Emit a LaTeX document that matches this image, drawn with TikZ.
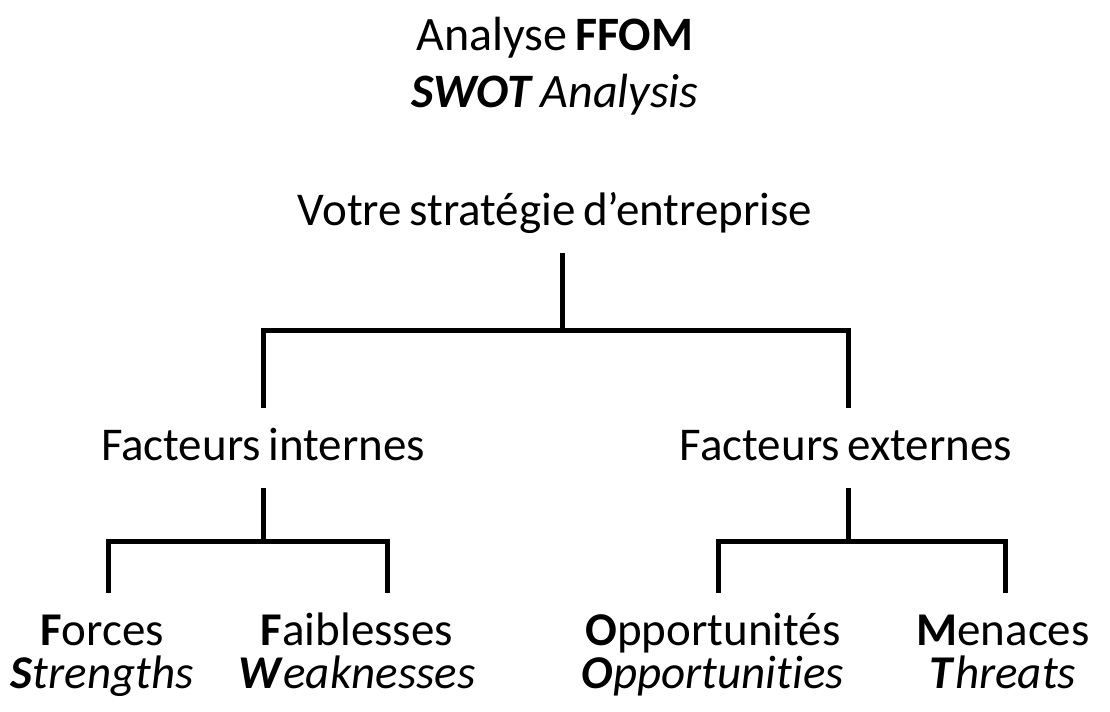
\documentclass[tikz,border=0pt]{standalone}
\usepackage{fontspec}
\setmainfont{Carlito}[Ligatures=NoCommon, WordSpace=0.7]
\tikzset{
    txt/.style={font=\fontsize{23.5pt}{27pt}\selectfont, inner sep=0pt, anchor=base,
        text height=26pt, text depth=14pt},
    ttl/.style={font=\fontsize{24pt}{28pt}\selectfont, inner sep=0pt, anchor=base},
    link/.style={line width=2.5pt}
}
\begin{document}
\begin{tikzpicture}[x=0.5pt,y=-0.5pt]
        \useasboundingbox (0,0) rectangle (1110,712);
        %% Title
        \node[ttl] (ttlfr) at (555,50)  {Analyse \textbf{FFOM}};
        \node[ttl] (ttlen) at (555,107) {\textbf{\textit{SWOT}} \textit{Analysis}};
        %% Tree
        \node[txt] (strat) at (555,225) {Votre stratégie d’entreprise};
        \node[txt] (intern) at (263,460) {Facteurs internes};
        \node[txt] (extern) at (846,460) {Facteurs externes};
        \node[txt] (forces) at (102,645) {\textbf{F}orces};
            \node[txt] (strengths) at (102,688) {\textbf{\textit{S}}\textit{trengths}};
        \node[txt] (faibl) at (357,645) {\textbf{F}aiblesses};
            \node[txt] (weak) at (357,688) {\textbf{\textit{W}}\textit{eaknesses}};
        \node[txt] (opport) at (713,645) {\textbf{O}pportunités};
            \node[txt] (opportun) at (713,688) {\textbf{\textit{O}}\textit{pportunities}};
        \node[txt] (menaces) at (1003,645) {\textbf{M}enaces};
            \node[txt] (threats) at (1003,688) {\textbf{\textit{T}}\textit{hreats}};
        %% Brackets
        \draw[link] ([xshift=3.5pt]strat.south) -- ++(0,77) -| (intern.north);
        \draw[link] ([xshift=3.5pt]strat.south) -- ++(0,77) -| ([xshift=1pt]extern.north);
        \draw[link] (intern.south) -- ++(0,53) -| ([xshift=3pt]forces.north);
        \draw[link] (intern.south) -- ++(0,53) -| ([xshift=15pt]faibl.north);
        \draw[link] ([xshift=1pt]extern.south) -- ++(0,53) -| ([xshift=2.5pt]opport.north);
        \draw[link] ([xshift=1pt]extern.south) -- ++(0,53) -| ([xshift=1pt]menaces.north);
\end{tikzpicture}
\end{document}
